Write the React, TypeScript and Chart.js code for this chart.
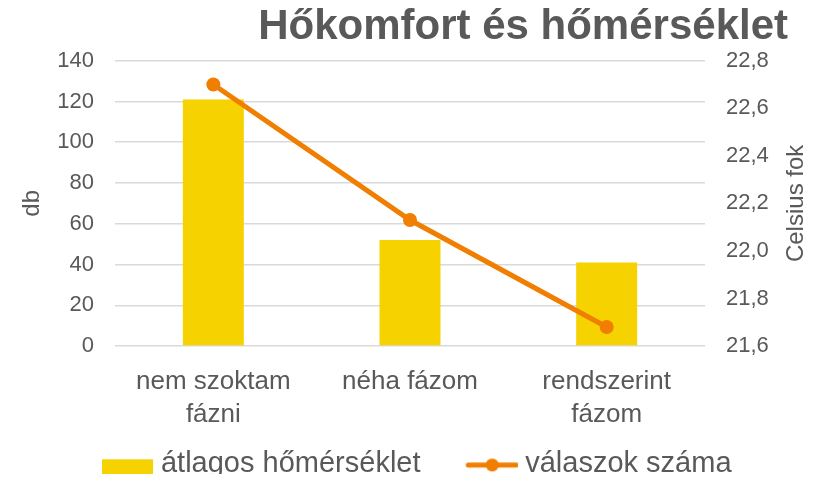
import React, { useEffect, useRef } from 'react';
import { Chart, registerables } from 'chart.js';

Chart.register(...registerables);

// ---- data ----
const categories = [['nem szoktam', 'fázni'], 'néha fázom', ['rendszerint', 'fázom']];
const barSeries = [121, 52, 41];
const lineSeries = [22.7, 22.13, 21.68];
const leftTicks = [0, 20, 40, 60, 80, 100, 120, 140];
const rightTicks = [21.6, 21.8, 22.0, 22.2, 22.4, 22.6, 22.8];
const seriesNames = ['átlagos hőmérséklet', 'válaszok száma'];
const chartTitle = 'Hőkomfort és hőmérséklet';
const leftAxisTitle = 'db';
const rightAxisTitle = 'Celsius fok';

// ---- styles ----
const FONT = "'Liberation Sans', Arial, sans-serif";
const TEXT = '#595959';
const BAR = '#F6D200';
const LINE = '#F07E00';
const GRID = '#D9D9D9';

function makeIcon(draw: (g: CanvasRenderingContext2D) => void) {
  const c = document.createElement('canvas');
  c.width = 98;
  c.height = 24;
  const g = c.getContext('2d') as CanvasRenderingContext2D;
  draw(g);
  return c;
}

const rightTitlePlugin = {
  id: 'rightAxisTitle',
  afterDraw(chart: any) {
    const s = chart.scales.y1;
    const ca = chart.chartArea;
    const ctx = chart.ctx;
    ctx.save();
    ctx.translate(s.right + 8.5, (ca.top + ca.bottom) / 2);
    ctx.rotate(-Math.PI / 2);
    ctx.font = `24px ${FONT}`;
    ctx.fillStyle = TEXT;
    ctx.textAlign = 'center';
    ctx.textBaseline = 'middle';
    ctx.fillText(rightAxisTitle, 0, 0);
    ctx.restore();
  },
};

export default function App() {
  const ref = useRef<HTMLCanvasElement | null>(null);

  useEffect(() => {
    if (!ref.current) return;
    const barIcon = makeIcon((g) => {
      g.fillStyle = BAR;
      g.fillRect(46, 7, 51, 15);
    });
    const lineIcon = makeIcon((g) => {
      g.strokeStyle = LINE;
      g.lineWidth = 5;
      g.lineCap = 'round';
      g.beginPath();
      g.moveTo(48, 12.7);
      g.lineTo(96, 12.7);
      g.stroke();
      g.fillStyle = LINE;
      g.beginPath();
      g.arc(72, 12.7, 6.5, 0, Math.PI * 2);
      g.fill();
    });

    const chart = new Chart(ref.current, {
      type: 'bar',
      data: {
        labels: categories as any,
        datasets: [
          {
            type: 'line',
            label: seriesNames[1],
            data: lineSeries,
            yAxisID: 'y1',
            borderColor: LINE,
            backgroundColor: LINE,
            borderWidth: 5,
            pointRadius: 7,
            pointBackgroundColor: LINE,
            pointBorderWidth: 0,
            order: 0,
          } as any,
          {
            type: 'bar',
            label: seriesNames[0],
            data: barSeries,
            yAxisID: 'y',
            backgroundColor: BAR,
            barPercentage: 0.31,
            categoryPercentage: 1,
            order: 1,
          },
        ],
      },
      options: {
        responsive: false,
        animation: false,
        layout: { padding: { left: 7, right: 45, top: 0, bottom: 1.2 } },
        plugins: {
          tooltip: { enabled: false },
          title: {
            display: true,
            text: chartTitle,
            align: 'end',
            color: TEXT,
            font: { family: FONT, size: 42, weight: 'bold', lineHeight: 1 },
            padding: { top: 6, bottom: 12.7 },
          },
          legend: {
            position: 'bottom',
            labels: {
              usePointStyle: true,
              pointStyleWidth: 83,
              padding: 7.2,
              color: TEXT,
              font: { family: FONT, size: 29 },
              generateLabels: () => [
                {
                  text: seriesNames[0],
                  pointStyle: barIcon as any,
                  fillStyle: BAR,
                  strokeStyle: BAR,
                  lineWidth: 0,
                  hidden: false,
                  datasetIndex: 1,
                  fontColor: TEXT,
                },
                {
                  text: seriesNames[1],
                  pointStyle: lineIcon as any,
                  fillStyle: LINE,
                  strokeStyle: LINE,
                  lineWidth: 0,
                  hidden: false,
                  datasetIndex: 0,
                  fontColor: TEXT,
                },
              ],
            },
          },
        },
        scales: {
          x: {
            grid: { display: false },
            border: { display: false },
            ticks: {
              color: TEXT,
              font: { family: FONT, size: 26, lineHeight: 1.28 },
              padding: 11,
              maxRotation: 0,
              autoSkip: false,
            },
          },
          y: {
            position: 'left',
            min: leftTicks[0],
            max: leftTicks[leftTicks.length - 1],
            afterBuildTicks: (s: any) => {
              s.ticks = leftTicks.map((v) => ({ value: v }));
            },
            grid: { color: GRID, lineWidth: 1.5, drawTicks: false },
            border: { display: false },
            ticks: {
              color: TEXT,
              font: { family: FONT, size: 22 },
              padding: 21,
              callback: (v: any) => String(v),
            },
            title: {
              display: true,
              text: leftAxisTitle,
              color: TEXT,
              font: { family: FONT, size: 24, lineHeight: 1.2 },
              padding: { top: 10.6, bottom: -10.1 },
            },
          },
          y1: {
            position: 'right',
            min: rightTicks[0],
            max: rightTicks[rightTicks.length - 1],
            afterBuildTicks: (s: any) => {
              s.ticks = rightTicks.map((v) => ({ value: v }));
            },
            grid: { display: false, drawTicks: false },
            border: { display: false },
            ticks: {
              color: TEXT,
              font: { family: FONT, size: 22 },
              padding: 21,
              callback: (v: any) => Number(v).toFixed(1).replace('.', ','),
            },
            afterFit: (s: any) => {
              s.width = 83;
            },
          },
        },
      } as any,
      plugins: [rightTitlePlugin],
    });
    return () => chart.destroy();
  }, []);

  return (
    <div style={{ margin: -8, width: 833, height: 482, overflow: 'hidden' }}>
      <canvas ref={ref} width={833} height={490} style={{ display: 'block', width: 833, height: 490 }} />
    </div>
  );
}
